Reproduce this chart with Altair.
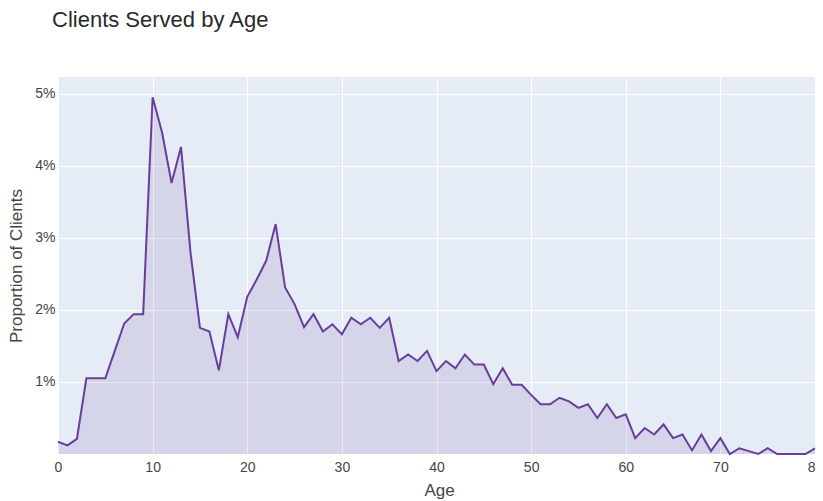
import altair as alt
import pandas as pd

ages = list(range(0, 81))
proportions_pct = [
    0.17, 0.12, 0.21, 1.05, 1.05, 1.05, 1.43, 1.81, 1.94, 1.94,
    4.95, 4.46, 3.76, 4.26, 2.80, 1.75, 1.70, 1.16, 1.94, 1.62,
    2.18, 2.42, 2.68, 3.19, 2.31, 2.08, 1.76, 1.94, 1.70, 1.80,
    1.66, 1.89, 1.80, 1.89, 1.75, 1.89, 1.29, 1.38, 1.29, 1.43,
    1.15, 1.29, 1.19, 1.38, 1.24, 1.24, 0.97, 1.19, 0.96, 0.96,
    0.82, 0.69, 0.69, 0.78, 0.73, 0.64, 0.69, 0.50, 0.69, 0.50,
    0.55, 0.22, 0.36, 0.27, 0.41, 0.22, 0.27, 0.05, 0.27, 0.04,
    0.22, 0.00, 0.08, 0.04, 0.00, 0.08, 0.00, 0.00, 0.00, 0.00,
    0.08,
]
x_ticks = [0, 10, 20, 30, 40, 50, 60, 70, 80]
y_ticks = [0.01, 0.02, 0.03, 0.04, 0.05]

df = pd.DataFrame({"Age": ages, "Proportion": [p / 100 for p in proportions_pct]})

FONT = "Liberation Sans"
LINE = "#6a3d9a"

x = alt.X(
    "Age:Q",
    scale=alt.Scale(domain=[0, 80], nice=False, zero=False),
    axis=alt.Axis(
        title="Age", values=x_ticks, format="d", grid=True, gridColor="white",
        gridWidth=1, domain=False, ticks=False, labelPadding=6,
        labelFontSize=14, titleFontSize=17, titleFontWeight="normal",
        labelColor="#444", titleColor="#444", titlePadding=8, labelFlush=False,
        titleX=381,
    ),
)
y = alt.Y(
    "Proportion:Q",
    scale=alt.Scale(domain=[0, 0.0523], nice=False),
    axis=alt.Axis(
        title="Proportion of Clients", values=y_ticks, format=".0%",
        grid=True, gridColor="white", gridWidth=1, domain=False, ticks=False,
        labelPadding=3, labelFontSize=14, titleFontSize=17,
        titleFontWeight="normal", labelColor="#444", titleColor="#444",
        titlePadding=9,
    ),
)

area = alt.Chart(df).mark_area(color=LINE, opacity=0.13).encode(x=x, y=y)
line = alt.Chart(df).mark_line(color=LINE, strokeWidth=2).encode(x=x, y=y)

chart = (
    alt.layer(area, line)
    .properties(
        width=757,
        height=377,
        padding={"left": 50, "top": 69, "right": 0, "bottom": 60},
        autosize=alt.AutoSizeParams(type="none"),
        title=alt.TitleParams(
            "Clients Served by Age", anchor="start", frame="group",
            fontSize=22, fontWeight="normal", color="#2a2a2a", font=FONT,
            offset=45, dx=-6,
        ),
    )
    .configure(font=FONT)
    .configure_view(fill="#E5ECF6", stroke=None)
    .configure_axis(labelFont=FONT, titleFont=FONT)
)

chart.save("out.html", embed_options={"renderer": "svg", "actions": False})
